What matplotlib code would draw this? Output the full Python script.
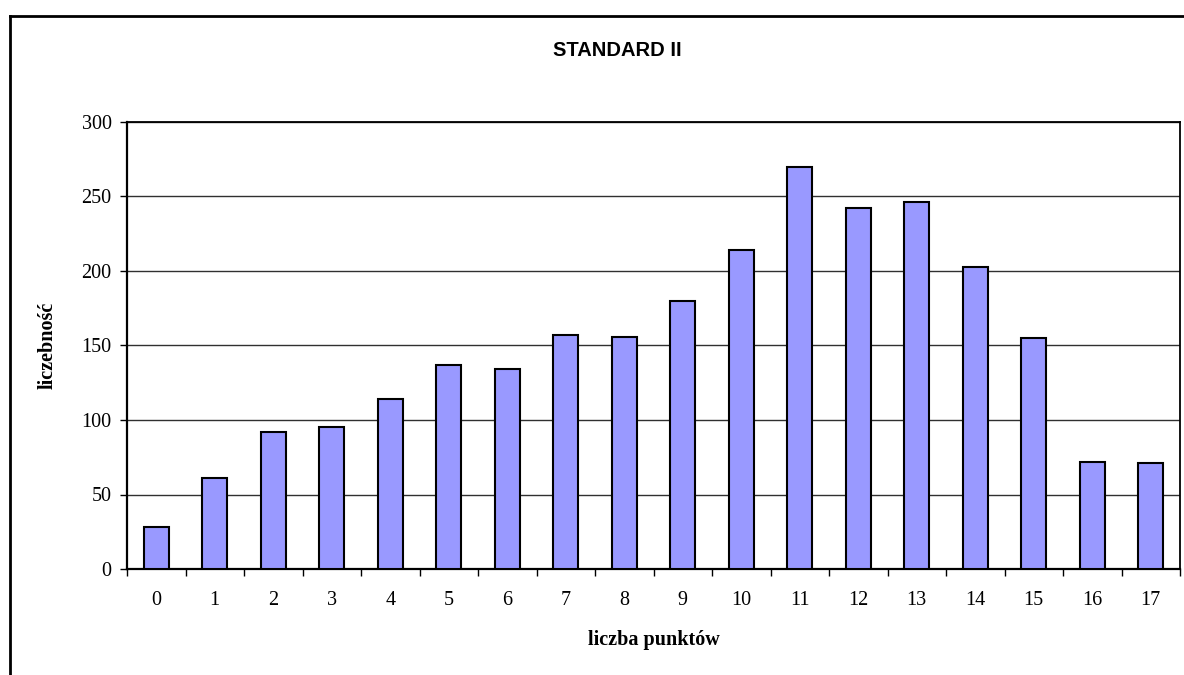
"""Histogram of point counts, STANDARD II (Excel-style bar chart)."""

import matplotlib

matplotlib.use("Agg")
import matplotlib.pyplot as plt
import numpy as np
from matplotlib.lines import Line2D

points = [str(i) for i in range(18)]
counts = [28, 61, 92, 95, 114, 137, 134, 157, 156, 180, 214, 270, 242, 246, 203, 155, 72, 71]
y_ticks = [0, 50, 100, 150, 200, 250, 300]

W, H = 1184, 675
fig = plt.figure(figsize=(W / 100, H / 100), dpi=100)
fig.patch.set_facecolor("white")

# plot area in pixel coordinates of the reference
left, right, top, bottom = 127, 1180, 122, 569
ax = fig.add_axes([left / W, 1 - bottom / H, (right - left) / W, (bottom - top) / H])

x = np.arange(len(points))
ax.bar(x, counts, width=0.42, color="#9999FF", edgecolor="black", linewidth=1.5, zorder=3)

ax.set_xlim(-0.5, len(points) - 0.5)
ax.set_ylim(0, 300)
ax.set_yticks(y_ticks)
ax.set_yticklabels([str(v) for v in y_ticks])
ax.yaxis.grid(True, color="#303030", linewidth=1.0, zorder=0)
ax.set_axisbelow(True)

# category ticks sit between the bars, labels centred under the bars
ax.set_xticks(np.arange(len(points) + 1) - 0.5)
ax.set_xticklabels([])
ax.set_xticks(x, minor=True)
ax.set_xticklabels(points, minor=True)
ax.tick_params(axis="x", which="major", direction="out", length=5, width=1, color="black")
ax.tick_params(axis="x", which="minor", length=0, pad=16)
ax.tick_params(axis="y", direction="out", length=5, width=1, pad=6)

serif = ["Liberation Serif", "DejaVu Serif"]
for lab in ax.get_xticklabels(minor=True) + ax.get_yticklabels():
    lab.set_fontfamily(serif)
    lab.set_fontsize(14.5)

for side in ["left", "bottom"]:
    ax.spines[side].set_linewidth(1.6)
for side in ["top", "right"]:
    ax.spines[side].set_linewidth(1.3)

ax.set_xlabel("liczba punktów", family=serif, fontsize=14.5, fontweight="bold", labelpad=14)
ax.set_ylabel("liczebność", family=serif, fontsize=14.5, fontweight="bold", labelpad=17)

fig.text(617 / W, 1 - 50 / H, "STANDARD II", ha="center", va="center",
         family=["Liberation Sans", "DejaVu Sans"], fontsize=14.5, fontweight="bold")

# outer chart frame (cut off at the right and bottom in the reference)
fig.add_artist(Line2D([9.5 / W, 9.5 / W], [0, 1 - 16 / H], transform=fig.transFigure,
                      color="black", linewidth=2))
fig.add_artist(Line2D([9.5 / W, 1], [1 - 16 / H, 1 - 16 / H], transform=fig.transFigure,
                      color="black", linewidth=2))

fig.savefig("out.png", dpi=100, facecolor="white")
